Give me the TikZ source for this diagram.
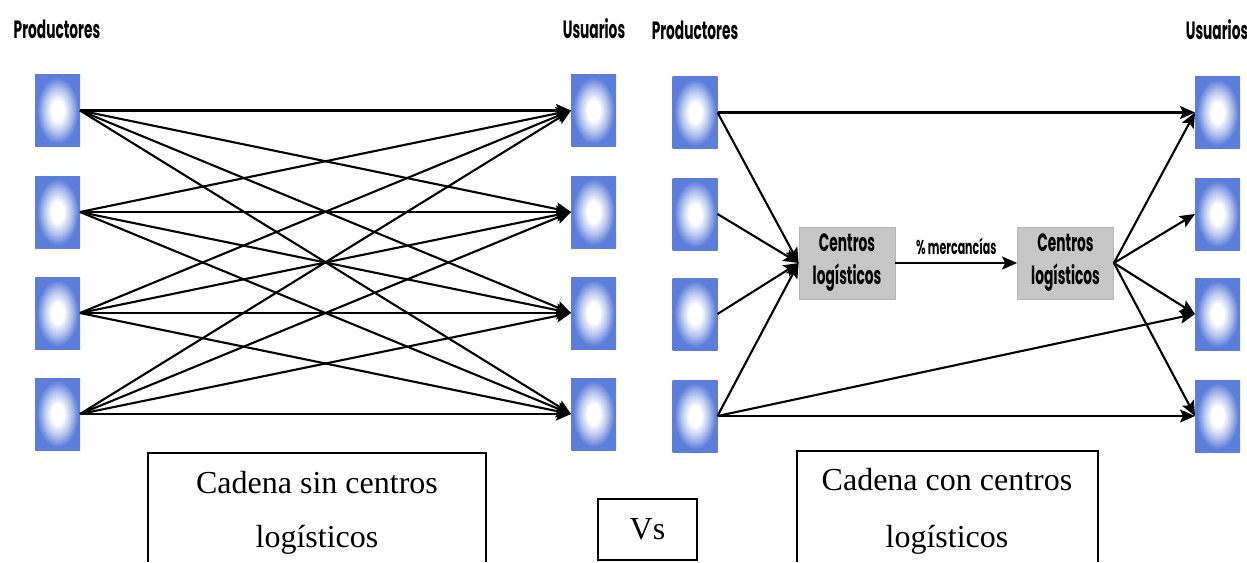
\documentclass[tikz,border=0pt]{standalone}
\usepackage{fontspec}
\setmainfont{Liberation Serif}
\newfontfamily\lblfont[FakeStretch=0.55]{Poppins}
\usetikzlibrary{arrows.meta,calc}
\definecolor{boxblue}{RGB}{92,126,218}
\definecolor{hubgray}{RGB}{198,198,198}
\definecolor{hubedge}{RGB}{182,182,182}
% soft white centre fading into a blue rim
\pgfdeclareradialshading{ubshade}{\pgfpoint{0bp}{0bp}}{%
  color(0bp)=(white); color(7bp)=(white); color(15bp)=(boxblue!45!white);
  color(23bp)=(boxblue); color(50bp)=(boxblue)}

\begin{document}
\begin{tikzpicture}[x=1pt,y=-1pt,
  ubox/.style={minimum width=45pt,minimum height=72pt,inner sep=0pt,outer sep=0pt,
    shading=ubshade},
  hub/.style={fill=hubgray,draw=hubedge,line width=0.8pt,minimum width=96pt,minimum height=72pt,
    inner sep=0pt,align=center,font=\lblfont\bfseries\fontsize{25}{33}\selectfont},
  title/.style={font=\lblfont\bfseries\fontsize{25}{28}\selectfont,inner sep=0pt},
  link/.style={line width=2.1pt},
  arr/.style={link,-{Stealth[length=15pt,width=13pt,inset=3pt]}},
  frame/.style={line width=1.8pt},
  caption/.style={font=\fontsize{32}{38}\selectfont,inner sep=0pt,anchor=base}
]
\useasboundingbox (0,0) rectangle (1247,562);

% ---------- chain without logistics centres ----------
\node[title] (tp1) at (57,29) {Productores};
\node[title] (tu1) at (594,29) {Usuarios};

\node[ubox] (a1) at (57.5,110.5) {};
\node[ubox] (a2) at (57.5,212) {};
\node[ubox] (a3) at (57.5,313) {};
\node[ubox] (a4) at (57.5,414) {};

\node[ubox] (b1) at (593.5,110.5) {};
\node[ubox] (b2) at (593.5,212) {};
\node[ubox] (b3) at (593.5,313) {};
\node[ubox] (b4) at (593.5,414) {};

\foreach \i in {1,...,4}{
  \foreach \j in {1,...,4}{
    \draw[arr] (a\i.east) -- (b\j.west);
  }
}

% ---------- chain with logistics centres ----------
\node[title] (tp2) at (695,30) {Productores};
\node[title] (tu2) at (1217,30) {Usuarios};

\node[ubox] (p1) at (695,112.5) {};
\node[ubox] (p2) at (695,214) {};
\node[ubox] (p3) at (695,314) {};
\node[ubox] (p4) at (695,416) {};

\node[ubox] (u1) at (1217.5,112.5) {};
\node[ubox] (u2) at (1217.5,214) {};
\node[ubox] (u3) at (1217.5,314) {};
\node[ubox] (u4) at (1217.5,416) {};

\node[hub] (c1) at (847,263) {Centros\\logísticos};
\node[hub] (c2) at (1065.5,263) {Centros\\logísticos};

\draw[arr] (c1.east) -- node[above=7pt,font=\lblfont\bfseries\fontsize{20}{22}\selectfont,inner sep=0pt] (pm) {\% mercancías} (c2.west);

\foreach \i in {1,...,4}{
  \draw[arr] (p\i.east) -- (c1.west);
  \draw[arr] (c2.east) -- (u\i.west);
}
\draw[arr] (p1.east) -- (u1.west);
\draw[arr] (p4.east) -- (u3.west);
\draw[arr] (p4.east) -- (u4.west);

% ---------- captions ----------
\draw[frame] (148,562) -- (148,453) -- (486,453) -- (486,562);
\node[caption] (cap1a) at (317,493) {Cadena sin centros};
\node[caption] (cap1b) at (317,547) {logísticos};

\node[draw,line width=1.8pt,minimum width=99pt,minimum height=61pt,inner sep=0pt,
  font=\fontsize{32}{38}\selectfont] (vs) at (647.5,529.5) {Vs};

\draw[frame] (797,562) -- (797,451) -- (1098,451) -- (1098,562);
\node[caption] (cap2a) at (947,490) {Cadena con centros};
\node[caption] (cap2b) at (947,547) {logísticos};
\end{tikzpicture}
\end{document}
